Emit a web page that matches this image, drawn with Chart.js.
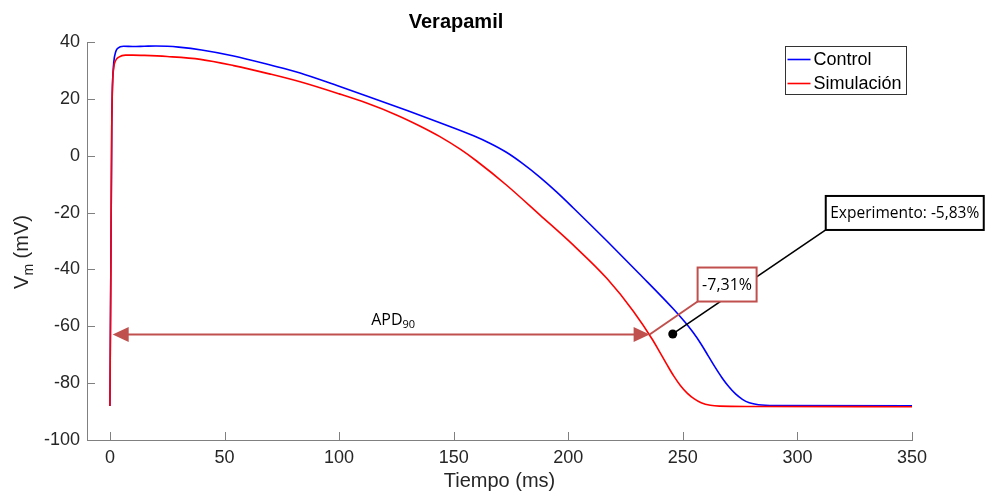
<!DOCTYPE html>
<html>
<head>
<meta charset="utf-8">
<script src="https://cdn.jsdelivr.net/npm/chart.js@4/dist/chart.umd.min.js"></script>
<style>
  html, body { margin: 0; padding: 0; background: #fff; }
  #wrap { width: 989px; height: 493px; }
</style>
</head>
<body>
<div id="wrap"><canvas id="c1" width="989" height="493"></canvas></div>
<script>
  // action potential, control vs simulated verapamil block
  var tControl = [0, 0.4, 0.8, 1.2, 1.7, 2.5, 3.2, 4.5, 6, 10, 15, 20, 25, 30, 40, 54, 70, 83, 100, 112, 130, 144, 158.7, 166, 173, 180, 187.7, 195, 202, 217, 231, 246, 251, 254.6, 258, 261, 264, 267, 270, 273, 276, 279, 283, 290, 350]
  var vControl = [-88, -40, 10, 26, 33, 36.5, 37.6, 38.3, 38.5, 38.4, 38.5, 38.6, 38.5, 38.2, 37.2, 35.1, 31.9, 29.1, 24.4, 21.0, 15.8, 11.6, 7.0, 4.3, 1.2, -2.7, -7.6, -12.8, -18.2, -30.1, -41.5, -54, -58.6, -62.3, -66.3, -70.3, -74.3, -78.0, -81.2, -83.8, -85.7, -86.9, -87.6, -87.9, -88]

  var tSim = [0, 0.4, 0.8, 1.0, 1.7, 2.5, 3.9, 6.8, 10, 15, 25, 39.5, 54, 70, 83, 100, 112, 125, 135, 144, 153, 160, 173, 187.7, 202, 217, 228.4, 237, 240, 243, 246, 249, 252, 255, 258, 262, 266, 280, 350]
  var vSim = [-88, -40, 10, 22, 31, 33.5, 34.7, 35.4, 35.4, 35.3, 34.9, 33.9, 31.7, 28.7, 26.0, 21.75, 18.5, 14.35, 10.55, 6.7, 2.2, -1.86, -10.3, -20.9, -31.3, -43.3, -54.7, -65, -69.2, -73.4, -77.45, -80.9, -83.6, -85.55, -86.9, -87.8, -88.1, -88.2, -88.3]

  var xTicks = [0, 50, 100, 150, 200, 250, 300, 350]
  var yTicks = [-100, -80, -60, -40, -20, 0, 20, 40]

  // APD90 marker and the two percentage notes
  var apdLevel = -62.9
  var apdStart = 1.2
  var apdEnd = 235.5
  var apdLabelT = 114
  var expPoint = [245.6, -62.7]
  var simNote = '-7,31%'
  var expNote = 'Experimento: -5,83%'

  var axisFont = '"Liberation Sans", Arial, Helvetica, sans-serif'
  var noteFont = '"Open Sans", "Noto Sans", sans-serif'
  var noteRed = '#c0504d'

  function toPoints(xs, ys) {
    return xs.map(function(x, i) {
      return { x: x, y: ys[i] }
    })
  }

  function arrowHead(ctx, tipX, tipY, dir) {
    ctx.beginPath()
    ctx.moveTo(tipX, tipY)
    ctx.lineTo(tipX + dir * 16, tipY - 7.5)
    ctx.lineTo(tipX + dir * 16, tipY + 7.5)
    ctx.closePath()
    ctx.fill()
  }

  function noteBox(ctx, x, y, w, h, text, stroke) {
    ctx.fillStyle = '#fff'
    ctx.fillRect(x, y, w, h)
    ctx.strokeStyle = stroke
    ctx.lineWidth = 2
    ctx.strokeRect(x, y, w, h)
    ctx.fillStyle = '#000'
    ctx.textAlign = 'center'
    ctx.textBaseline = 'middle'
    ctx.fillText(text, x + w / 2, y + h / 2 + 1)
  }

  var decorations = {
    id: 'decorations',
    afterDatasetsDraw: function(chart) {
      var ctx = chart.ctx
      var xs = chart.scales.x
      var ys = chart.scales.y
      var y0 = ys.getPixelForValue(apdLevel)
      var xa = xs.getPixelForValue(apdStart)
      var xb = xs.getPixelForValue(apdEnd)
      ctx.save()

      // APD90 double arrow
      ctx.strokeStyle = noteRed
      ctx.fillStyle = noteRed
      ctx.lineWidth = 2
      ctx.beginPath()
      ctx.moveTo(xa + 10, y0)
      ctx.lineTo(xb - 10, y0)
      ctx.stroke()
      arrowHead(ctx, xa, y0, 1)
      arrowHead(ctx, xb, y0, -1)

      ctx.fillStyle = '#000'
      ctx.font = '16px ' + noteFont
      ctx.textAlign = 'left'
      ctx.textBaseline = 'alphabetic'
      var lx = xs.getPixelForValue(apdLabelT)
      ctx.fillText('APD', lx, y0 - 10)
      var w = ctx.measureText('APD').width
      ctx.font = '11px ' + noteFont
      ctx.fillText('90', lx + w, y0 - 7)

      // boxes anchored to the annotated points
      var pctX = xb + 48, pctY = y0 - 67, pctW = 59, pctH = 34
      var expX = xs.getPixelForValue(expPoint[0]), expY = ys.getPixelForValue(expPoint[1])
      var boxX = expX + 153, boxY = expY - 138, boxW = 158, boxH = 34

      // red connector from arrow tip to simulation note
      ctx.strokeStyle = noteRed
      ctx.lineWidth = 2
      ctx.beginPath()
      ctx.moveTo(xb, y0)
      ctx.lineTo(pctX, pctY + pctH)
      ctx.stroke()

      // black leader from experimental point
      ctx.strokeStyle = '#000'
      ctx.lineWidth = 1.6
      ctx.beginPath()
      ctx.moveTo(expX, expY)
      ctx.lineTo(boxX, boxY + boxH)
      ctx.stroke()
      ctx.fillStyle = '#000'
      ctx.beginPath()
      ctx.arc(expX, expY, 4.5, 0, Math.PI * 2)
      ctx.fill()

      ctx.font = '16px ' + noteFont
      noteBox(ctx, pctX, pctY, pctW, pctH, simNote, noteRed)
      ctx.font = '15.5px ' + noteFont
      noteBox(ctx, boxX, boxY, boxW, boxH, expNote, '#000')
      ctx.restore()
    },
    afterDraw: function(chart) {
      var ctx = chart.ctx
      var xs = chart.scales.x
      var ys = chart.scales.y
      var area = chart.chartArea
      ctx.save()

      // inward tick marks
      ctx.strokeStyle = '#808080'
      ctx.lineWidth = 1
      ctx.beginPath()
      xTicks.forEach(function(v) {
        var px = Math.round(xs.getPixelForValue(v)) + 0.5
        ctx.moveTo(px, area.bottom)
        ctx.lineTo(px, area.bottom - 8)
      })
      yTicks.forEach(function(v) {
        var py = Math.round(ys.getPixelForValue(v)) + 0.5
        ctx.moveTo(area.left, py)
        ctx.lineTo(area.left + 8, py)
      })
      ctx.stroke()

      // y axis title with subscript
      ctx.fillStyle = '#262626'
      ctx.translate(28, (area.top + area.bottom) / 2 + 11)
      ctx.rotate(-Math.PI / 2)
      ctx.textBaseline = 'alphabetic'
      ctx.textAlign = 'left'
      ctx.font = '20px ' + axisFont
      var wV = ctx.measureText('V').width
      var wRest = ctx.measureText(' (mV)').width
      ctx.font = '14px ' + axisFont
      var wm = ctx.measureText('m').width
      var sx = -(wV + wm + wRest) / 2
      ctx.font = '20px ' + axisFont
      ctx.fillText('V', sx, 0)
      ctx.font = '14px ' + axisFont
      ctx.fillText('m', sx + wV, 5)
      ctx.font = '20px ' + axisFont
      ctx.fillText(' (mV)', sx + wV + wm, 0)
      ctx.setTransform(1, 0, 0, 1, 0, 0)

      // legend
      var lx = 785.5, ly = 46.5, lw = 121, lh = 48
      ctx.fillStyle = '#fff'
      ctx.fillRect(lx, ly, lw, lh)
      ctx.strokeStyle = '#333'
      ctx.lineWidth = 1
      ctx.strokeRect(lx, ly, lw, lh)
      ctx.font = '18px ' + axisFont
      ctx.textBaseline = 'middle'
      ctx.textAlign = 'left'
      chart.data.datasets.forEach(function(ds, i) {
        var ry = ly + 13 + i * 24
        ctx.strokeStyle = ds.borderColor
        ctx.lineWidth = 1.6
        ctx.beginPath()
        ctx.moveTo(lx + 2, ry)
        ctx.lineTo(lx + 25, ry)
        ctx.stroke()
        ctx.fillStyle = '#000'
        ctx.fillText(ds.label, lx + 28, ry + 1)
      })
      ctx.restore()
    }
  }

  var ctx = document.getElementById('c1')
  var chart1 = new Chart(ctx, {
    type: 'line',
    data: {
      datasets: [{
        label: 'Control',
        data: toPoints(tControl, vControl),
        borderColor: '#0000ff',
        borderWidth: 1.6,
        pointRadius: 0,
        cubicInterpolationMode: 'monotone',
        order: 1
      }, {
        label: 'Simulación',
        data: toPoints(tSim, vSim),
        borderColor: '#ff0000',
        borderWidth: 1.6,
        pointRadius: 0,
        cubicInterpolationMode: 'monotone',
        order: 0
      }]
    },
    options: {
      responsive: false,
      animation: false,
      events: [],
      layout: { padding: { left: 0, right: 77, top: 0, bottom: 0 } },
      plugins: {
        legend: { display: false },
        tooltip: { enabled: false },
        title: {
          display: true,
          text: 'Verapamil',
          color: '#000',
          font: { family: axisFont, size: 20, weight: 'bold' },
          padding: { top: 10, bottom: 8 }
        }
      },
      scales: {
        x: {
          type: 'linear',
          min: -10,
          max: 350,
          afterFit: function(s) { s.height = 53 },
          afterBuildTicks: function(s) {
            s.ticks = xTicks.map(function(v) { return { value: v } })
          },
          grid: { display: false, drawTicks: false },
          border: { display: true, color: '#808080', width: 1 },
          ticks: {
            color: '#262626',
            padding: 7,
            maxRotation: 0,
            font: { family: axisFont, size: 18 }
          },
          title: {
            display: true,
            text: 'Tiempo (ms)',
            color: '#262626',
            font: { family: axisFont, size: 20 },
            padding: { top: 0, bottom: 0 }
          }
        },
        y: {
          min: -100,
          max: 40,
          afterFit: function(s) { s.width = 87 },
          afterBuildTicks: function(s) {
            s.ticks = yTicks.map(function(v) { return { value: v } })
          },
          grid: { display: false, drawTicks: false },
          border: { display: true, color: '#808080', width: 1 },
          ticks: {
            color: '#262626',
            padding: 7,
            font: { family: axisFont, size: 18 }
          }
        }
      }
    },
    plugins: [decorations]
  })
</script>
</body>
</html>
